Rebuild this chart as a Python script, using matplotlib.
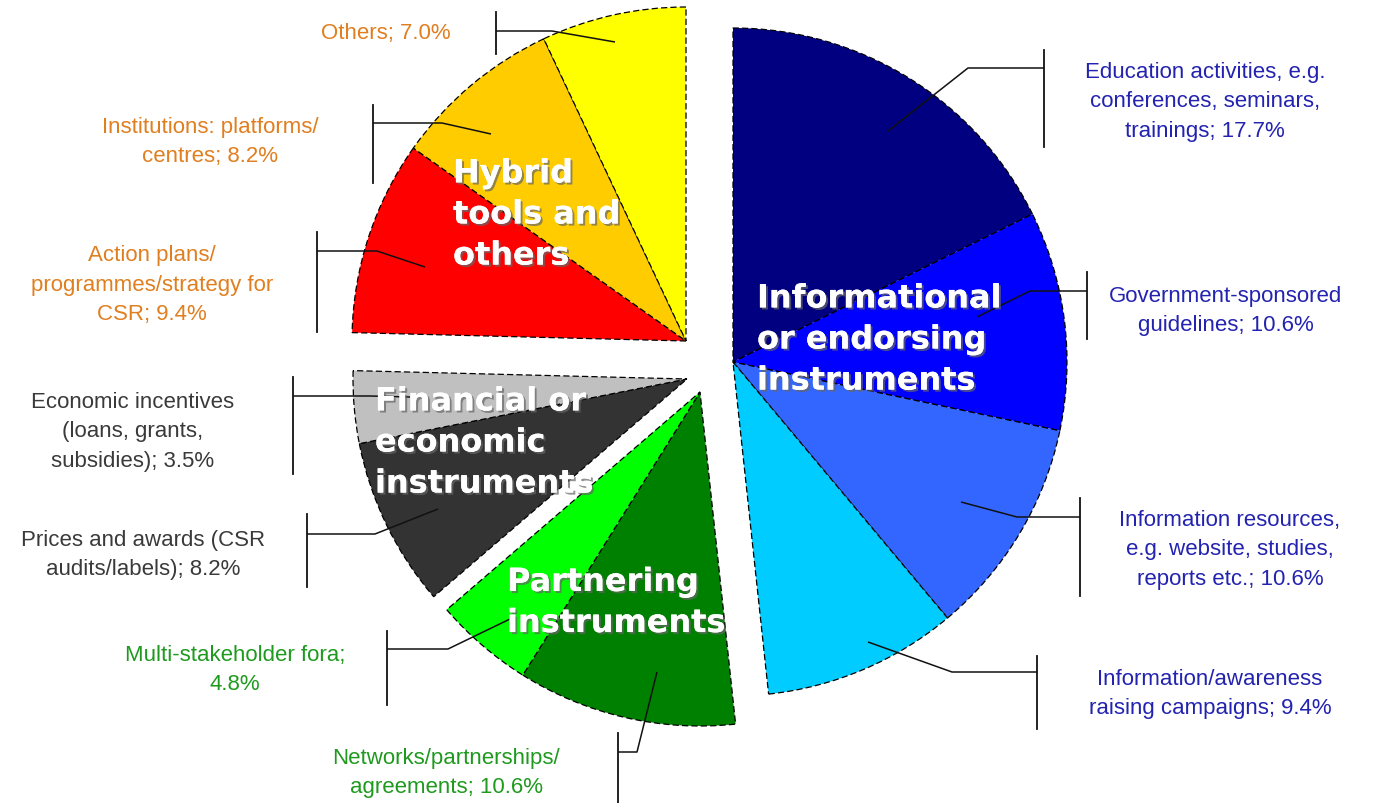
import matplotlib.pyplot as plt
import matplotlib.patheffects as pe

W, H = 1387, 804

# instrument categories, clockwise from 12 o'clock
label_fmt = [
    "Education activities, e.g.\nconferences, seminars,\ntrainings; {:.1f}%",
    "Government-sponsored\nguidelines; {:.1f}%",
    "Information resources,\ne.g. website, studies,\nreports etc.; {:.1f}%",
    "Information/awareness\nraising campaigns; {:.1f}%",
    "Networks/partnerships/\nagreements; {:.1f}%",
    "Multi-stakeholder fora;\n{:.1f}%",
    "Prices and awards (CSR\naudits/labels); {:.1f}%",
    "Economic incentives\n(loans, grants,\nsubsidies); {:.1f}%",
    "Action plans/\nprogrammes/strategy for\nCSR; {:.1f}%",
    "Institutions: platforms/\ncentres; {:.1f}%",
    "Others; {:.1f}%",
]
shares = [17.7, 10.6, 10.6, 9.4, 10.6, 4.8, 8.2, 3.5, 9.4, 8.2, 7.0]
slice_group = [0, 0, 0, 0, 1, 1, 2, 2, 3, 3, 3]
slice_colors = ["#000080", "#0000ff", "#3366ff", "#00ccff",
                "#008000", "#00ff00", "#333333", "#c0c0c0",
                "#ff0000", "#ffcc00", "#ffff00"]

group_names = ["Informational\nor endorsing\ninstruments",
               "Partnering\ninstruments",
               "Financial or\neconomic\ninstruments",
               "Hybrid\ntools and\nothers"]
group_text_colors = ["#2323b0", "#1f9a1f", "#3a3a3a", "#e07f20"]

# layout in pixel coords (y measured from the top)
CX, CY, R = 712, 364, 334
group_shift = [(21, -1), (-12, 29), (-25, 16), (-26, -22)]
group_label_pos = [(757, 341), (507, 604), (375, 444), (453, 216)]

# leader: point in slice, elbow, bracket x, bracket y-span, text centre
leaders = [
    ((888, 132), (968, 69), 1044, (51, 148), (1205, 102)),
    ((977, 318), (1030, 292), 1087, (273, 340), (1226, 311)),
    ((961, 503), (1017, 518), 1080, (499, 597), (1230, 550)),
    ((868, 643), (952, 673), 1037, (657, 730), (1210, 694)),
    ((657, 673), (637, 753), 618, (734, 810), (446, 773)),
    ((510, 620), (448, 650), 387, (632, 706), (235, 670)),
    ((438, 510), (375, 535), 307, (515, 588), (143, 555)),
    ((410, 398), (370, 397), 293, (378, 475), (133, 432)),
    ((425, 268), (377, 252), 317, (233, 333), (152, 285)),
    ((491, 135), (442, 124), 373, (106, 184), (210, 142)),
    ((615, 43), (552, 32), 496, (13, 55), (386, 33)),
]

fig = plt.figure(figsize=(W / 100, H / 100), dpi=100)
ax = fig.add_axes([0, 0, 1, 1])

wedges, _ = ax.pie(shares, colors=slice_colors, startangle=90, counterclock=False,
                   radius=R, center=(CX, H - CY),
                   wedgeprops=dict(edgecolor="black", linewidth=0.9,
                                   linestyle=(0, (5, 2.5))))

# pull each group of slices apart
for w, g in zip(wedges, slice_group):
    dx, dy = group_shift[g]
    w.set_center((CX + dx, H - CY - dy))

for i, (inner, elbow, bx, (by0, by1), (tx, ty)) in enumerate(leaders):
    ax.plot([inner[0], elbow[0], bx], [H - inner[1], H - elbow[1], H - elbow[1]],
            color="#111111", lw=1.1, solid_capstyle="butt")
    ax.plot([bx, bx], [H - by0, H - by1], color="#111111", lw=1.3)
    ax.text(tx, H - ty, label_fmt[i].format(shares[i]), ha="center", va="center",
            multialignment="center", fontsize=16, family="Liberation Sans",
            color=group_text_colors[slice_group[i]], linespacing=1.52)

shadow = [pe.withSimplePatchShadow(offset=(1.5, -1.5), shadow_rgbFace="#666666", alpha=0.7),
          pe.Normal()]
for name, (gx, gy) in zip(group_names, group_label_pos):
    ax.text(gx, H - gy, name, ha="left", va="center", fontsize=23, fontweight="bold",
            family="DejaVu Sans", color="white", linespacing=1.42, path_effects=shadow)

ax.set_xlim(0, W)
ax.set_ylim(0, H)
ax.set_aspect("equal")
ax.axis("off")

fig.savefig("out.png", dpi=100, facecolor="white")
